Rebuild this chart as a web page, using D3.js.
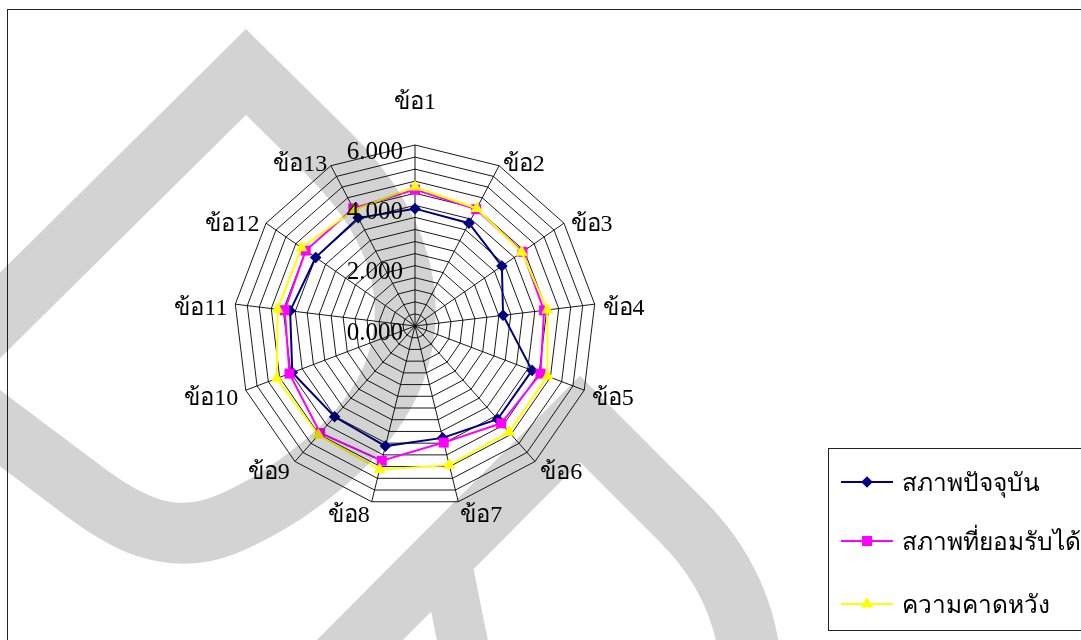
<!DOCTYPE html>
<html>
<head>
<meta charset="utf-8">
<script src="https://cdn.jsdelivr.net/npm/d3@7"></script>
<style>
  html, body { margin: 0; padding: 0; background: #ffffff; }
  svg { display: block; }
  text { font-family: "Liberation Serif", "Times New Roman", serif; fill: #000; }
</style>
</head>
<body>
<svg id="chart" width="1081" height="640"></svg>
<script>
// Survey items around the radar
const categories = ["ข้อ1", "ข้อ2", "ข้อ3", "ข้อ4", "ข้อ5", "ข้อ6", "ข้อ7",
                    "ข้อ8", "ข้อ9", "ข้อ10", "ข้อ11", "ข้อ12", "ข้อ13"];

// Mean scores per item
const currentState    = [3.89, 3.85, 3.50, 2.94, 4.15, 4.13, 3.82, 4.10, 4.02, 4.35, 4.17, 4.00, 4.05];
const acceptableState = [4.52, 4.37, 4.33, 4.31, 4.45, 4.31, 3.98, 4.60, 4.74, 4.45, 4.35, 4.40, 4.40];
const expectation     = [4.61, 4.40, 4.30, 4.42, 4.70, 4.70, 4.75, 4.90, 4.83, 4.90, 4.59, 4.57, 4.35];

const seriesNames  = ["สภาพปัจจุบัน", "สภาพที่ยอมรับได้", "ความคาดหวัง"];
const seriesColors = ["#000080", "#ff00ff", "#ffff00"];
const seriesShapes = ["diamond", "square", "triangle"];

// Value axis
const valueMax   = 6;
const majorTicks = [0, 2, 4, 6];
const tickLabels = ["0.000", "2.000", "4.000", "6.000"];
const minorStep  = 0.4;

// ---------------------------------------------------------------
const svg = d3.select("#chart");
const cx = 415, cy = 326, R = 181;
const n = categories.length;

const rScale = d3.scaleLinear().domain([0, valueMax]).range([0, R]);
const angle = d3.scaleLinear().domain([0, n]).range([0, 2 * Math.PI]);

const pt = (i, v) => {
  const a = angle(i), r = rScale(v);
  return [cx + r * Math.sin(a), cy - r * Math.cos(a)];
};

// outer chart frame
svg.append("rect")
  .attr("x", 7.5).attr("y", 9.5)
  .attr("width", 1100).attr("height", 700)
  .attr("fill", "none").attr("stroke", "#222").attr("stroke-width", 1);

const plot = svg.append("g");

// polygon gridlines
const ringValues = d3.range(1, Math.round(valueMax / minorStep) + 1).map(k => k * minorStep);
const ringLine = d3.line().curve(d3.curveLinearClosed);
plot.append("g").selectAll("path")
  .data(ringValues)
  .join("path")
  .attr("d", v => ringLine(d3.range(n).map(i => pt(i, v))))
  .attr("fill", "none")
  .attr("stroke", "#000")
  .attr("stroke-width", 0.9);

// spokes
plot.append("g").selectAll("line")
  .data(d3.range(n))
  .join("line")
  .attr("x1", cx).attr("y1", cy)
  .attr("x2", i => pt(i, valueMax)[0])
  .attr("y2", i => pt(i, valueMax)[1])
  .attr("stroke", "#000")
  .attr("stroke-width", 0.9);

// category labels
plot.append("g").selectAll("text")
  .data(categories)
  .join("text")
  .attr("x", (d, i) => {
    const a = angle(i);
    return cx + (R + 8) * Math.sin(a);
  })
  .attr("y", (d, i) => {
    const a = angle(i);
    const top = Math.abs(Math.sin(a)) < 0.1 && Math.cos(a) > 0;
    return cy - (R + 8) * Math.cos(a) + (top ? -36 : 4);
  })
  .attr("text-anchor", (d, i) => {
    const s = Math.sin(angle(i));
    return Math.abs(s) < 0.1 ? "middle" : (s > 0 ? "start" : "end");
  })
  .attr("dominant-baseline", "central")
  .style("font-size", "24px")
  .text(d => d);

// marker shapes (path generators centred on 0,0)
const markerPath = {
  diamond: () => "M0,-5.8L5.8,0L0,5.8L-5.8,0Z",
  square: d3.symbol().type(d3.symbolSquare).size(100),
  triangle: d3.symbol().type(d3.symbolTriangle).size(64)
};

const seriesData = [currentState, acceptableState, expectation];
const radarLine = d3.line().curve(d3.curveLinearClosed);

seriesData.forEach((vals, s) => {
  const g = plot.append("g");
  g.append("path")
    .attr("d", radarLine(vals.map((v, i) => pt(i, v))))
    .attr("fill", "none")
    .attr("stroke", seriesColors[s])
    .attr("stroke-width", 2);
  g.selectAll("path.mk")
    .data(vals)
    .join("path")
    .attr("class", "mk")
    .attr("transform", (v, i) => `translate(${pt(i, v)})`)
    .attr("d", markerPath[seriesShapes[s]]())
    .attr("fill", seriesColors[s]);
});

// value axis labels, drawn above the series
plot.append("g").selectAll("text")
  .data(majorTicks)
  .join("text")
  .attr("x", cx - 12)
  .attr("y", v => cy - rScale(v) + 5)
  .attr("text-anchor", "end")
  .attr("dominant-baseline", "central")
  .style("font-size", "25px")
  .text((v, i) => tickLabels[i]);

// legend
const legend = svg.append("g");
legend.append("rect")
  .attr("x", 828.5).attr("y", 448.5)
  .attr("width", 300).attr("height", 182)
  .attr("fill", "#fff").attr("stroke", "#222").attr("stroke-width", 1);

const legendY = [482, 541, 604];
seriesNames.forEach((name, s) => {
  const y = legendY[s];
  legend.append("line")
    .attr("x1", 841).attr("x2", 893)
    .attr("y1", y).attr("y2", y)
    .attr("stroke", seriesColors[s]).attr("stroke-width", 2);
  legend.append("path")
    .attr("transform", `translate(867,${y})`)
    .attr("d", markerPath[seriesShapes[s]]())
    .attr("fill", seriesColors[s]);
  legend.append("text")
    .attr("x", 902).attr("y", y)
    .attr("dominant-baseline", "central")
    .style("font-size", "24.5px")
    .text(name);
});

// background watermark strokes; the group as a whole is multiplied over the drawing
const watermarkPaths = [
  { d: "M -40,355 L 246,72 L 330,155 C 400,225 420,300 395,370 C 370,440 285,500 225,525 C 170,547 125,522 85,492 L -40,398", w: 61 },
  { d: "M 330,670 L 580,419 L 680,519 Q 752,590 752,690", w: 61 },
  { d: "M 445,554 L 468,668", w: 50 }
];
svg.append("g")
  .style("mix-blend-mode", "multiply")
  .style("isolation", "isolate")
  .selectAll("path")
  .data(watermarkPaths)
  .join("path")
  .attr("d", d => d.d)
  .attr("fill", "none")
  .attr("stroke", "#d3d3d3")
  .attr("stroke-width", d => d.w)
  .attr("stroke-linejoin", "miter");
</script>
</body>
</html>
